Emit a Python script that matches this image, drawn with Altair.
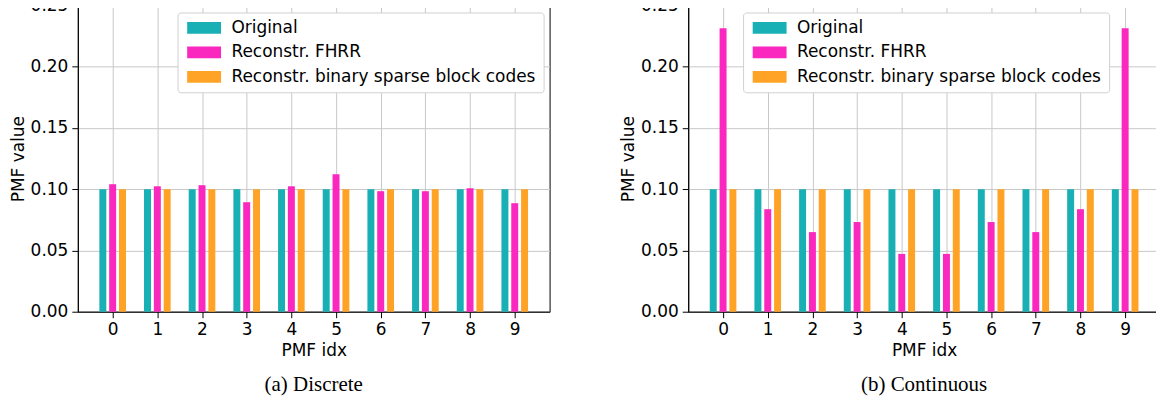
import altair as alt
import pandas as pd

idx = [0, 1, 2, 3, 4, 5, 6, 7, 8, 9]
series = ["Original", "Reconstr. FHRR", "Reconstr. binary sparse block codes"]
colors = ["#18b0b4", "#fa28be", "#ffa326"]
y_ticks = [0.0, 0.05, 0.10, 0.15, 0.20, 0.25]

# (a) Discrete
orig_discrete = [0.1, 0.1, 0.1, 0.1, 0.1, 0.1, 0.1, 0.1, 0.1, 0.1]
fhrr_discrete = [0.1041, 0.1024, 0.1033, 0.0894, 0.1024, 0.1122, 0.0984, 0.0984, 0.1008, 0.0886]
bsbc_discrete = [0.1, 0.1, 0.1, 0.1, 0.1, 0.1, 0.1, 0.1, 0.1, 0.1]

# (b) Continuous
orig_cont = [0.1, 0.1, 0.1, 0.1, 0.1, 0.1, 0.1, 0.1, 0.1, 0.1]
fhrr_cont = [0.2314, 0.0837, 0.0650, 0.0732, 0.0472, 0.0472, 0.0732, 0.0650, 0.0837, 0.2314]
bsbc_cont = [0.1, 0.1, 0.1, 0.1, 0.1, 0.1, 0.1, 0.1, 0.1, 0.1]

BAR_STEP = 0.22
BAR_HALF = 0.078
# legend patch: 2 units tall, 5.8 units wide, left edge at -1
rect_path = "M-1,-1L4.8,-1L4.8,1L-1,1Z"


def panel(orig, fhrr, bsbc, caption, legend_x):
    rows = []
    for s_i, (name, vals) in enumerate(zip(series, [orig, fhrr, bsbc])):
        for i, v in zip(idx, vals):
            rows.append({"idx": i, "series": name, "order": s_i, "value": v})
    df = pd.DataFrame(rows)
    return (
        alt.Chart(df)
        .transform_calculate(
            x0=f"datum.idx + (datum.order - 1) * {BAR_STEP} - {BAR_HALF}",
            x1=f"datum.idx + (datum.order - 1) * {BAR_STEP} + {BAR_HALF}",
        )
        .mark_bar()
        .encode(
            x=alt.X(
                "x0:Q",
                scale=alt.Scale(domain=[-0.78, 9.78], nice=False, zero=False),
                axis=alt.Axis(values=idx, format="d", title="PMF idx"),
            ),
            x2="x1:Q",
            y=alt.Y(
                "value:Q",
                scale=alt.Scale(domain=[0, 0.25], nice=False),
                axis=alt.Axis(values=y_ticks, format=".2f", title="PMF value"),
            ),
            y2=alt.datum(0),
            color=alt.Color(
                "series:N",
                scale=alt.Scale(domain=series, range=colors),
                legend=alt.Legend(
                    title=None,
                    orient="none",
                    legendX=legend_x,
                    legendY=7,
                    fillColor="white",
                    strokeColor="#d0d0d0",
                    cornerRadius=3,
                    padding=7,
                    symbolType=rect_path,
                    symbolSize=137,
                    symbolStrokeWidth=0,
                    symbolOpacity=1,
                    labelFontSize=17,
                    labelFont="DejaVu Sans",
                    labelColor="black",
                    rowPadding=6.5,
                    labelOffset=30,
                    labelLimit=400,
                ),
            ),
        )
        .properties(
            width=473,
            height=307,
            title=alt.TitleParams(
                caption,
                orient="bottom",
                anchor="middle",
                font="Liberation Serif",
                fontSize=21,
                fontWeight="normal",
                color="black",
                offset=16,
            ),
        )
    )


left = panel(orig_discrete, fhrr_discrete, bsbc_discrete, "(a) Discrete", 100)
right = panel(orig_cont, fhrr_cont, bsbc_cont, "(b) Continuous", 55)

chart = (
    alt.hconcat(left, right, spacing=68)
    .resolve_legend(color="independent")
    .resolve_scale(color="shared")
    .properties(padding={"top": -13, "left": 0, "right": -5, "bottom": 0})
    .configure_view(stroke="black", strokeWidth=1)
    .configure_axis(
        labelFont="DejaVu Sans",
        labelFontSize=17,
        labelColor="black",
        titleFont="DejaVu Sans",
        titleFontSize=17,
        titleFontWeight="normal",
        titleColor="black",
        domainColor="black",
        tickColor="black",
        tickSize=6,
        labelPadding=4,
        gridColor="#c8c8c8",
        gridWidth=1,
        titlePadding=4.5,
    )
    .configure_axisY(titlePadding=3)
)

chart.save("out.html", embed_options={"renderer": "svg", "actions": False})
